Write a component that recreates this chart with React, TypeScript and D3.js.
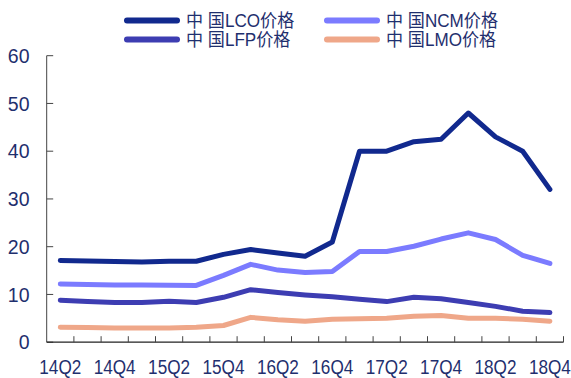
import React from "react";
import * as d3 from "d3";

// Quarterly cathode material prices (万元/吨), 2014Q2 – 2018Q4
const quarters = [
  "14Q2", "14Q3", "14Q4", "15Q1", "15Q2", "15Q3", "15Q4", "16Q1", "16Q2", "16Q3",
  "16Q4", "17Q1", "17Q2", "17Q3", "17Q4", "18Q1", "18Q2", "18Q3", "18Q4",
];
const lcoPrice = [17.1, 17.0, 16.9, 16.8, 16.95, 16.95, 18.4, 19.4, 18.7, 18.0, 21.0, 40.0, 40.0, 42.0, 42.5, 48.0, 43.0, 40.0, 32.0];
const ncmPrice = [12.2, 12.1, 12.0, 12.0, 11.95, 11.9, 14.0, 16.3, 15.1, 14.6, 14.8, 19.0, 19.0, 20.1, 21.6, 22.9, 21.5, 18.2, 16.5];
const lfpPrice = [8.8, 8.5, 8.3, 8.3, 8.6, 8.3, 9.4, 11.0, 10.4, 9.9, 9.5, 9.0, 8.5, 9.4, 9.1, 8.3, 7.5, 6.5, 6.2];
const lmoPrice = [3.15, 3.1, 2.95, 2.95, 2.95, 3.15, 3.5, 5.2, 4.7, 4.4, 4.8, 4.9, 5.0, 5.45, 5.6, 5.0, 5.0, 4.8, 4.4];
const yTicks = [0, 10, 20, 30, 40, 50, 60];
const xLabelEvery = 2;

const seriesNames = ["中 国LCO价格", "中 国NCM价格", "中 国LFP价格", "中 国LMO价格"];
const seriesColors = ["#11298e", "#7b7bff", "#3d3db2", "#efa789"];
const seriesValues = [lcoPrice, ncmPrice, lfpPrice, lmoPrice];

const W = 571;
const H = 378;
const left = 46.7;
const right = 563.5;
const top = 55.7;
const bottom = 342.2;

const textColor = "#1f2f6e";
const labelFont = "'Liberation Sans', Arial, sans-serif";
const cjkFont = "'Liberation Sans', 'Noto Sans CJK SC', sans-serif";

export default function App() {
  const x = d3.scaleBand<string>().domain(quarters).range([left, right]).paddingInner(0).paddingOuter(0);
  const y = d3.scaleLinear().domain([0, 60]).range([bottom, top]);
  const cx = (q: string) => (x(q) as number) + x.bandwidth() / 2;

  const line = d3
    .line<number>()
    .x((_, i) => cx(quarters[i]))
    .y((v) => y(v));

  // Drawing order: LMO at the back, LCO on top
  const drawOrder = [3, 2, 1, 0];

  const legendItems = [
    { idx: 0, lx: 124, ly: 20.5 },
    { idx: 1, lx: 324, ly: 20.5 },
    { idx: 2, lx: 124, ly: 39.5 },
    { idx: 3, lx: 324, ly: 39.5 },
  ];

  const boundaries = quarters.slice(1).map((q) => x(q) as number);

  return (
    <svg
      width={W}
      height={H}
      viewBox={`0 0 ${W} ${H}`}
      style={{ position: "absolute", left: 0, top: 0, background: "#fff" }}
    >
      {/* legend */}
      {legendItems.map(({ idx, lx, ly }) => (
        <g key={idx}>
          <line
            x1={lx + 3}
            x2={lx + 53}
            y1={ly}
            y2={ly}
            stroke={seriesColors[idx]}
            strokeWidth={6}
            strokeLinecap="round"
          />
          <text
            x={lx + 62}
            y={ly + 6.5}
            fontSize={18}
            fontFamily={cjkFont}
            fill={textColor}
            transform={`translate(${lx + 62},0) scale(0.95,1) translate(${-(lx + 62)},0)`}
          >
            {seriesNames[idx]}
          </text>
        </g>
      ))}

      {/* y axis */}
      <line x1={left} x2={left} y1={top} y2={bottom} stroke="#444" strokeWidth={1} />
      {yTicks.map((t) => (
        <g key={t}>
          <line x1={left} x2={left + 6.5} y1={y(t)} y2={y(t)} stroke="#444" strokeWidth={1} />
          <text
            x={29.5}
            y={y(t) + 7.2}
            textAnchor="end"
            fontSize={19.5}
            fontFamily={labelFont}
            fill={textColor}
          >
            {t}
          </text>
        </g>
      ))}

      {/* x axis */}
      <line x1={left} x2={right} y1={bottom} y2={bottom} stroke="#222" strokeWidth={1.2} />
      {boundaries.concat([right]).map((bx, i) => (
        <line key={i} x1={bx} x2={bx} y1={bottom} y2={bottom - 6} stroke="#444" strokeWidth={1} />
      ))}
      {quarters.map((q, i) =>
        i % xLabelEvery === 0 ? (
          <text
            key={q}
            x={cx(q)}
            y={374}
            textAnchor="middle"
            fontSize={19.5}
            fontFamily={labelFont}
            fill={textColor}
            transform={`translate(${cx(q)},0) scale(0.88,1) translate(${-cx(q)},0)`}
          >
            {q}
          </text>
        ) : null
      )}

      {/* series */}
      {drawOrder.map((idx) => (
        <path
          key={idx}
          d={line(seriesValues[idx]) as string}
          fill="none"
          stroke={seriesColors[idx]}
          strokeWidth={5}
          strokeLinejoin="round"
          strokeLinecap="round"
        />
      ))}
    </svg>
  );
}
